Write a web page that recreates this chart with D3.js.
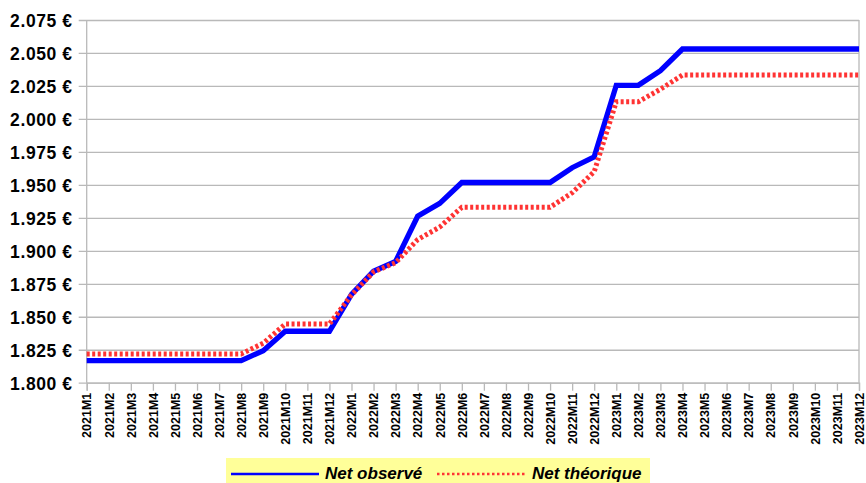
<!DOCTYPE html>
<html>
<head>
<meta charset="utf-8">
<script src="https://cdn.jsdelivr.net/npm/d3@7/dist/d3.min.js"></script>
<style>
  html, body { margin: 0; padding: 0; background: #fff; }
  svg { display: block; font-family: "Liberation Sans", Arial, sans-serif; }
</style>
</head>
<body>
<svg id="chart" width="866" height="483"></svg>
<script>
// Monthly periods 2021M1 .. 2023M12
const months = [
  "2021M1","2021M2","2021M3","2021M4","2021M5","2021M6","2021M7","2021M8","2021M9","2021M10","2021M11","2021M12",
  "2022M1","2022M2","2022M3","2022M4","2022M5","2022M6","2022M7","2022M8","2022M9","2022M10","2022M11","2022M12",
  "2023M1","2023M2","2023M3","2023M4","2023M5","2023M6","2023M7","2023M8","2023M9","2023M10","2023M11","2023M12"
];

// Observed net amount (€)
const netObserve = [
  1.8167,1.8167,1.8167,1.8167,1.8167,1.8167,1.8167,1.8167,1.8243,1.8390,1.8390,1.8390,
  1.8670,1.8845,1.8920,1.9262,1.9360,1.9518,1.9518,1.9518,1.9518,1.9518,1.9630,1.9713,
  2.0255,2.0255,2.0366,2.0530,2.0530,2.0530,2.0530,2.0530,2.0530,2.0530,2.0530,2.0530
];

// Theoretical net amount (€)
const netTheorique = [
  1.8218,1.8218,1.8218,1.8218,1.8218,1.8218,1.8218,1.8218,1.8300,1.8445,1.8445,1.8445,
  1.8665,1.8840,1.8910,1.9085,1.9180,1.9330,1.9330,1.9330,1.9330,1.9330,1.9440,1.9600,
  2.0130,2.0130,2.0225,2.0333,2.0333,2.0333,2.0333,2.0333,2.0333,2.0333,2.0333,2.0333
];

const yTicks = [1.800,1.825,1.850,1.875,1.900,1.925,1.950,1.975,2.000,2.025,2.050,2.075];

const seriesNames = ["Net observé", "Net théorique"];

const svg = d3.select("#chart");
const plotL = 86.7, plotR = 859, plotT = 20, plotB = 382.7;

const x = d3.scalePoint().domain(months).range([plotL, plotR]);
const y = d3.scaleLinear().domain([1.8, 2.075]).range([plotB, plotT]);

const grid = "#b9b9b9";

// Horizontal gridlines with tick marks extending left of the axis
const yAxis = d3.axisLeft(y)
  .tickValues(yTicks)
  .tickSize(-(plotR - plotL))
  .tickFormat(d => d3.format(".3f")(d) + " €");
const gy = svg.append("g").attr("transform", `translate(${plotL},0)`).call(yAxis);
gy.select(".domain").remove();
gy.selectAll(".tick line").attr("stroke", grid).attr("stroke-width", 1.3).attr("x1", -8);
gy.selectAll(".tick text")
  .attr("x", -14).attr("dy", "0.36em")
  .attr("fill", "#000").attr("font-size", 17.5).attr("font-weight", "bold")
  .attr("letter-spacing", 0.6)
  .attr("font-family", "Liberation Sans, Arial, sans-serif");

// Left and right borders of the plot area
svg.append("line").attr("x1", plotL).attr("x2", plotL).attr("y1", plotT).attr("y2", plotB)
  .attr("stroke", grid).attr("stroke-width", 1.3);
svg.append("line").attr("x1", plotR).attr("x2", plotR).attr("y1", plotT).attr("y2", plotB)
  .attr("stroke", grid).attr("stroke-width", 1.3);

// Month axis with rotated labels
const xAxis = d3.axisBottom(x).tickSize(8).tickPadding(4);
const gx = svg.append("g").attr("transform", `translate(0,${plotB})`).call(xAxis);
gx.select(".domain").attr("stroke", grid).attr("stroke-width", 1.3);
gx.selectAll(".tick line").attr("stroke", grid).attr("stroke-width", 1.3);
gx.selectAll(".tick text")
  .attr("transform", "rotate(-90)")
  .attr("text-anchor", "end")
  .attr("x", -10).attr("y", 0).attr("dy", "0.34em")
  .attr("fill", "#000").attr("font-size", 12.5).attr("font-weight", "bold")
  .attr("font-family", "Liberation Sans, Arial, sans-serif");

const line = d3.line().x((d, i) => x(months[i])).y(d => y(d));

svg.append("path").datum(netObserve)
  .attr("d", line).attr("fill", "none")
  .attr("stroke", "#0000ff").attr("stroke-width", 5.3).attr("stroke-linejoin", "miter");

svg.append("path").datum(netTheorique)
  .attr("d", line).attr("fill", "none")
  .attr("stroke", "#ff3333").attr("stroke-width", 5).attr("stroke-dasharray", "3,2.5");

// Legend
const lg = svg.append("g");
lg.append("rect").attr("x", 226).attr("y", 458).attr("width", 424).attr("height", 30).attr("fill", "#ffff99");
lg.append("line").attr("x1", 231).attr("x2", 319).attr("y1", 474).attr("y2", 474)
  .attr("stroke", "#0000ff").attr("stroke-width", 2.5);
lg.append("text").attr("x", 325).attr("y", 479).text(seriesNames[0])
  .attr("font-size", 17).attr("font-weight", "bold").attr("font-style", "italic");
lg.append("line").attr("x1", 437).attr("x2", 525).attr("y1", 474).attr("y2", 474)
  .attr("stroke", "#ff3333").attr("stroke-width", 2.5).attr("stroke-dasharray", "2.5,2.5");
lg.append("text").attr("x", 532).attr("y", 479).text(seriesNames[1])
  .attr("font-size", 17).attr("font-weight", "bold").attr("font-style", "italic");
</script>
</body>
</html>
